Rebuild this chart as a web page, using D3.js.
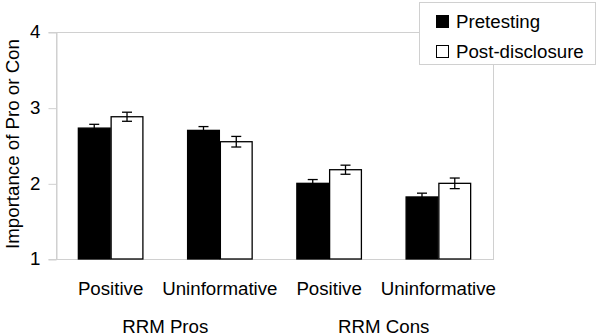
<!DOCTYPE html>
<html><head><meta charset="utf-8">
<script src="https://cdn.jsdelivr.net/npm/d3@7"></script>
<style>body{margin:0;background:#fff;} text{font-family:"Liberation Sans",Arial,sans-serif;}</style>
</head><body><svg id="c" width="600" height="336"></svg>
<script>
const categories = ["Positive","Uninformative","Positive","Uninformative"];
const groups = ["RRM Pros","RRM Cons"];
const series = ["Pretesting","Post-disclosure"];
const pretesting = [2.73, 2.70, 2.00, 1.82];
const postDisclosure = [2.88, 2.55, 2.18, 2.00];
const pretestingErr = [0.05, 0.05, 0.05, 0.05];
const postErr = [0.06, 0.07, 0.06, 0.07];
const yTicks = [1,2,3,4];

const svg = d3.select("#c");
const L=56, R=493, T=32, B=259;
const FS = 18.7;
const x = d3.scaleBand().domain(d3.range(categories.length)).range([L,R]).paddingInner(0.4).paddingOuter(0.2);
const y = d3.scaleLinear().domain([1,4]).range([B,T]);
const xs = d3.scaleBand().domain(series).range([0,x.bandwidth()]);
const grey="#d0d0d0";

svg.append("rect").attr("x",L+0.5).attr("y",T+0.5).attr("width",R-L).attr("height",B-T)
  .attr("fill","none").attr("stroke",grey);
const ya = svg.append("g").attr("transform",`translate(${L+0.5},0)`)
  .call(d3.axisLeft(y).tickValues(yTicks).tickFormat(d3.format("d")).tickSize(8).tickPadding(8));
ya.select(".domain").attr("stroke",grey);
ya.selectAll(".tick line").attr("stroke",grey).attr("transform","translate(0,0.5)");
ya.selectAll(".tick text").attr("font-size",FS).attr("fill","#000").attr("font-family","Liberation Sans, Arial");

const data = categories.map((c,i)=>({i, vals:[
  {s:series[0], v:pretesting[i], e:pretestingErr[i], fill:"#000"},
  {s:series[1], v:postDisclosure[i], e:postErr[i], fill:"#fff"}]}));

const g = svg.selectAll("g.cat").data(data).join("g").attr("class","cat")
  .attr("transform",d=>`translate(${x(d.i)},0)`);
g.selectAll("rect").data(d=>d.vals).join("rect")
  .attr("x",d=>xs(d.s)+0.5).attr("y",d=>y(d.v)).attr("width",xs.bandwidth()-1)
  .attr("height",d=>y(1)-y(d.v)).attr("fill",d=>d.fill).attr("stroke","#000").attr("stroke-width",1.3);
const eb = g.selectAll("g.err").data(d=>d.vals).join("g").attr("class","err")
  .attr("transform",d=>`translate(${xs(d.s)+xs.bandwidth()/2},0)`);
eb.append("line").attr("x1",0).attr("x2",0).attr("y1",d=>y(d.v+d.e)).attr("y2",d=>y(d.v-d.e)).attr("stroke","#000").attr("stroke-width",1.3);
eb.append("line").attr("x1",-5).attr("x2",5).attr("y1",d=>y(d.v+d.e)).attr("y2",d=>y(d.v+d.e)).attr("stroke","#000").attr("stroke-width",1.3);
eb.append("line").attr("x1",-5).attr("x2",5).attr("y1",d=>y(d.v-d.e)).attr("y2",d=>y(d.v-d.e)).attr("stroke","#000").attr("stroke-width",1.3);

svg.selectAll("text.cat").data(categories).join("text").attr("class","cat")
  .attr("x",(d,i)=>x(i)+x.bandwidth()/2).attr("y",295).attr("text-anchor","middle")
  .attr("font-size",FS).attr("fill","#000").text(d=>d);
const step = (R-L)/categories.length;
svg.selectAll("text.grp").data(groups).join("text").attr("class","grp")
  .attr("x",(d,i)=>L+step*(2*i+1)).attr("y",333).attr("text-anchor","middle")
  .attr("font-size",FS).attr("fill","#000").text(d=>d);
svg.append("text").attr("transform","translate(19,144) rotate(-90)").attr("text-anchor","middle")
  .attr("font-size",FS).attr("fill","#000").text("Importance of Pro or Con");

const lg = svg.append("g");
lg.append("rect").attr("x",419.5).attr("y",2.5).attr("width",176).attr("height",62).attr("fill","#fff").attr("stroke",grey);
series.forEach((s,i)=>{
  const yy = 21 + i*30;
  lg.append("rect").attr("x",436.5).attr("y",yy-5.5).attr("width",12).attr("height",12)
    .attr("fill",i===0?"#000":"#fff").attr("stroke","#000");
  lg.append("text").attr("x",456).attr("y",yy+6.5).attr("font-size",FS).attr("fill","#000").text(s);
});
</script></body></html>
